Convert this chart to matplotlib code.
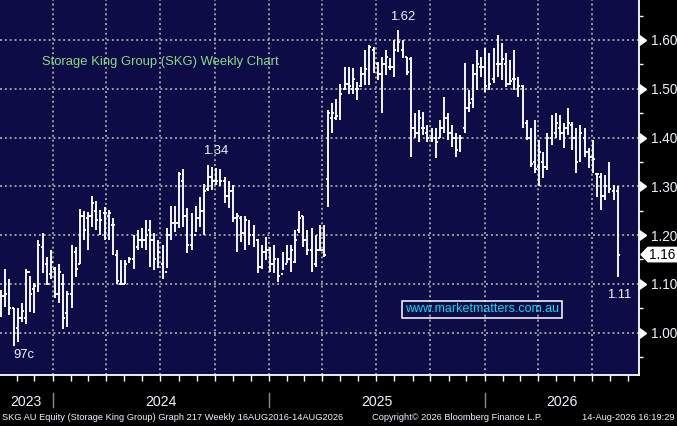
import matplotlib
matplotlib.use('Agg')
import matplotlib.pyplot as plt
import matplotlib.dates as mdates
import pandas as pd
import numpy as np
from matplotlib.patches import Polygon
from matplotlib.transforms import blended_transform_factory

# ---------------- data (weekly OHLC) ----------------
high = [1.088, 1.131, 1.110, 1.051, 1.051, 1.061, 1.131, 1.117, 1.102, 1.190,
        1.204, 1.155, 1.170, 1.135, 1.141, 1.120, 1.086, 1.180, 1.176, 1.254,
        1.250, 1.248, 1.280, 1.270, 1.252, 1.258, 1.252, 1.235, 1.170, 1.149,
        1.149, 1.155, 1.200, 1.210, 1.215, 1.231, 1.230, 1.205, 1.190, 1.180,
        1.215, 1.260, 1.260, 1.330, 1.336, 1.256, 1.245, 1.260, 1.278, 1.305,
        1.343, 1.340, 1.338, 1.336, 1.319, 1.310, 1.303, 1.245, 1.240, 1.240,
        1.231, 1.221, 1.192, 1.180, 1.196, 1.176, 1.180, 1.153, 1.166, 1.180,
        1.180, 1.210, 1.250, 1.240, 1.210, 1.215, 1.200, 1.220, 1.220, 1.457,
        1.471, 1.480, 1.510, 1.545, 1.545, 1.543, 1.514, 1.545, 1.580, 1.590,
        1.586, 1.555, 1.565, 1.580, 1.563, 1.600, 1.620, 1.600, 1.565, 1.565,
        1.450, 1.457, 1.452, 1.426, 1.420, 1.420, 1.436, 1.483, 1.450, 1.426,
        1.410, 1.405, 1.553, 1.497, 1.550, 1.580, 1.565, 1.584, 1.573, 1.584,
        1.610, 1.594, 1.573, 1.559, 1.580, 1.524, 1.508, 1.436, 1.420, 1.436,
        1.395, 1.370, 1.410, 1.446, 1.450, 1.446, 1.430, 1.461, 1.432, 1.420,
        1.426, 1.420, 1.379, 1.395, 1.327, 1.327, 1.323, 1.350, 1.303, 1.300]
low = [1.031, 1.053, 1.036, 0.972, 0.980, 1.022, 1.018, 1.042, 1.041, 1.084,
       1.122, 1.098, 1.110, 1.071, 1.061, 1.008, 1.012, 1.051, 1.114, 1.141,
       1.190, 1.170, 1.217, 1.210, 1.200, 1.190, 1.190, 1.160, 1.100, 1.098,
       1.100, 1.143, 1.131, 1.170, 1.174, 1.170, 1.135, 1.129, 1.133, 1.110,
       1.133, 1.190, 1.207, 1.215, 1.217, 1.164, 1.170, 1.207, 1.217, 1.200,
       1.290, 1.293, 1.303, 1.300, 1.266, 1.256, 1.227, 1.166, 1.186, 1.170,
       1.180, 1.176, 1.122, 1.131, 1.149, 1.125, 1.122, 1.104, 1.129, 1.143,
       1.125, 1.143, 1.205, 1.176, 1.160, 1.125, 1.135, 1.170, 1.154, 1.258,
       1.410, 1.436, 1.436, 1.497, 1.490, 1.490, 1.477, 1.503, 1.508, 1.508,
       1.532, 1.518, 1.450, 1.528, 1.539, 1.524, 1.575, 1.563, 1.528, 1.360,
       1.400, 1.390, 1.405, 1.390, 1.390, 1.358, 1.400, 1.410, 1.395, 1.380,
       1.360, 1.370, 1.410, 1.452, 1.460, 1.497, 1.524, 1.494, 1.497, 1.512,
       1.524, 1.518, 1.504, 1.508, 1.497, 1.483, 1.420, 1.395, 1.340, 1.327,
       1.300, 1.317, 1.334, 1.385, 1.400, 1.395, 1.379, 1.406, 1.375, 1.327,
       1.350, 1.360, 1.338, 1.327, 1.278, 1.252, 1.272, 1.286, 1.272, 1.114]
open_ = [1.040, 1.075, 1.100, 1.050, 1.010, 1.030, 1.030, 1.125, 1.090, 1.095,
         1.175, 1.140, 1.120, 1.130, 1.080, 1.100, 1.040, 1.080, 1.165, 1.140,
         1.240, 1.235, 1.240, 1.250, 1.230, 1.245, 1.240, 1.220, 1.160, 1.100,
         1.100, 1.145, 1.150, 1.175, 1.190, 1.190, 1.210, 1.190, 1.160, 1.140,
         1.125, 1.200, 1.225, 1.225, 1.310, 1.240, 1.180, 1.200, 1.235, 1.250,
         1.295, 1.320, 1.310, 1.310, 1.310, 1.280, 1.290, 1.235, 1.235, 1.205,
         1.220, 1.200, 1.190, 1.135, 1.165, 1.170, 1.140, 1.150, 1.120, 1.140,
         1.150, 1.145, 1.210, 1.240, 1.190, 1.170, 1.140, 1.170, 1.170, 1.315,
         1.440, 1.440, 1.450, 1.500, 1.510, 1.500, 1.500, 1.505, 1.530, 1.540,
         1.580, 1.550, 1.530, 1.550, 1.545, 1.545, 1.580, 1.580, 1.565, 1.560,
         1.420, 1.410, 1.420, 1.410, 1.400, 1.400, 1.400, 1.420, 1.440, 1.410,
         1.400, 1.390, 1.420, 1.460, 1.480, 1.530, 1.545, 1.545, 1.510, 1.520,
         1.550, 1.550, 1.550, 1.510, 1.520, 1.515, 1.505, 1.430, 1.400, 1.350,
         1.340, 1.350, 1.340, 1.400, 1.410, 1.420, 1.410, 1.420, 1.425, 1.400,
         1.360, 1.400, 1.370, 1.360, 1.325, 1.320, 1.280, 1.290, 1.290, 1.290]
close = [1.075, 1.080, 1.050, 1.000, 1.030, 1.045, 1.125, 1.080, 1.095, 1.180,
         1.140, 1.100, 1.145, 1.080, 1.125, 1.030, 1.080, 1.165, 1.130, 1.240,
         1.210, 1.240, 1.265, 1.230, 1.230, 1.245, 1.245, 1.220, 1.105, 1.100,
         1.140, 1.150, 1.170, 1.190, 1.190, 1.200, 1.190, 1.150, 1.165, 1.125,
         1.200, 1.225, 1.225, 1.325, 1.240, 1.180, 1.200, 1.235, 1.250, 1.290,
         1.320, 1.310, 1.310, 1.310, 1.280, 1.290, 1.235, 1.240, 1.205, 1.230,
         1.200, 1.190, 1.135, 1.165, 1.170, 1.140, 1.150, 1.115, 1.140, 1.150,
         1.170, 1.190, 1.235, 1.190, 1.170, 1.130, 1.170, 1.170, 1.160, 1.450,
         1.450, 1.445, 1.490, 1.510, 1.505, 1.520, 1.500, 1.530, 1.540, 1.585,
         1.550, 1.530, 1.550, 1.565, 1.545, 1.580, 1.595, 1.570, 1.535, 1.420,
         1.410, 1.440, 1.420, 1.400, 1.405, 1.390, 1.420, 1.440, 1.410, 1.400,
         1.375, 1.400, 1.460, 1.470, 1.530, 1.550, 1.545, 1.505, 1.510, 1.550,
         1.550, 1.560, 1.510, 1.515, 1.520, 1.505, 1.430, 1.400, 1.345, 1.335,
         1.370, 1.340, 1.400, 1.420, 1.430, 1.410, 1.420, 1.430, 1.400, 1.350,
         1.410, 1.370, 1.360, 1.355, 1.325, 1.280, 1.300, 1.295, 1.300, 1.160]
last_date = '2026-08-14'
y_major = [1.00, 1.10, 1.20, 1.30, 1.40, 1.50, 1.60]
y_minor = [0.95, 1.05, 1.15, 1.25, 1.35, 1.45, 1.55, 1.65]
years = [2023, 2024, 2025, 2026]
title = 'Storage King Group (SKG) Weekly Chart'
footer_left = 'SKG AU Equity (Storage King Group) Graph 217 Weekly 16AUG2016-14AUG2026'
footer_mid = 'Copyright\u00a9 2026 Bloomberg Finance L.P.'
footer_right = '14-Aug-2026 16:19:29'
watermark = 'www.marketmatters.com.au'

# ---------------- style ----------------
plt.rcParams['font.family'] = ['Liberation Sans', 'DejaVu Sans']
NAVY = '#0d0c47'
GRID = '#9c9ca4'
TXT = '#eef2ff'

dates = pd.date_range(end=last_date, periods=len(close), freq='W-FRI')
xd = mdates.date2num(dates.to_pydatetime())

W, H = 677, 426
fig = plt.figure(figsize=(W / 100, H / 100), dpi=100, facecolor='black')
ax = fig.add_axes([0, 51 / H, 639 / W, 375 / H])
ax.set_facecolor(NAVY)

x0 = mdates.date2num(pd.Timestamp('2023-10-04'))
x1 = mdates.date2num(pd.Timestamp('2026-09-19'))
ax.set_xlim(x0, x1)
ax.set_ylim(0.913, 1.682)

# OHLC bars
tk = 3.2
LW = 1.35
ax.vlines(xd, low, high, color='white', lw=LW, zorder=3)
ax.hlines(open_, xd - tk, xd, color='white', lw=LW, zorder=3)
ax.hlines(close, xd, xd + tk, color='white', lw=LW, zorder=3)

# grid
ax.xaxis.set_major_locator(mdates.MonthLocator(bymonth=[1, 4, 7, 10]))
ax.xaxis.set_minor_locator(mdates.MonthLocator())
ax.set_yticks(y_major)
ax.set_yticks(y_minor, minor=True)
ax.grid(True, which='major', color=GRID, lw=1.4, linestyle=(0, (1, 1.5)))
ax.set_axisbelow(True)

for s in ['left', 'top']:
    ax.spines[s].set_visible(False)
for s in ['right', 'bottom']:
    ax.spines[s].set_color('white')
    ax.spines[s].set_linewidth(1.3)

ax.tick_params(axis='x', which='both', direction='out', length=4, width=1,
               colors='white', labelbottom=False)
ax.yaxis.tick_right()
ax.tick_params(axis='y', which='major', length=0, pad=8.5, labelsize=9.8,
               labelcolor=TXT)
ax.tick_params(axis='y', which='minor', length=3, width=1, colors='white')
ax.set_yticklabels(['%.2f' % v for v in y_major])

bt = blended_transform_factory(ax.transAxes, ax.transData)
ax.plot(np.ones(len(y_major)), y_major, transform=bt, ls='none', marker=9,
        ms=6.5, color='white', clip_on=False, zorder=5)

# last price tag
lc = close[-1]
px = 1 / 639
hh = 7.2 / 487.8
tag = Polygon([(1 + 2 * px, lc), (1 + 9 * px, lc + hh), (1 + 40 * px, lc + hh),
               (1 + 40 * px, lc - hh), (1 + 9 * px, lc - hh)], closed=True,
              transform=bt, fc='white', ec='white', clip_on=False, zorder=6)
ax.add_patch(tag)
ax.text(1 + 23 * px, lc, '%.2f' % lc, transform=bt, ha='center', va='center',
        fontsize=9.8, color='black', zorder=7, clip_on=False)

# annotations
ih = int(np.argmax(high))
ax.annotate('%.2f' % high[ih], (xd[ih], high[ih]), xytext=(4, 13),
            textcoords='offset pixels', ha='center', va='center', color=TXT, fontsize=9.4)
h2 = int(np.argmax(high[:79]))
ax.annotate('%.2f' % high[h2], (xd[h2], high[h2]), xytext=(8, 14),
            textcoords='offset pixels', ha='center', va='center', color=TXT, fontsize=9.4)
il = int(np.argmin(low))
ax.annotate('%dc' % round(low[il] * 100), (xd[il], low[il]), xytext=(10, -9),
            textcoords='offset pixels', ha='center', va='center', color=TXT, fontsize=9.4)
ax.annotate('%.2f' % low[-1], (xd[-1], low[-1]), xytext=(1, -18),
            textcoords='offset pixels', ha='center', va='center', color=TXT, fontsize=9.4)

# title and watermark
fig.text(42 / W, 1 - 62 / H, title, color='#86dc86', fontsize=9.4,
         ha='left', va='center')
fig.text(482 / W, 1 - 309.5 / H, watermark, color='#12d8f2', fontsize=9.0,
         ha='center', va='center',
         bbox=dict(boxstyle='square,pad=0.2', fc='none', ec='white', lw=1.1))

# year labels and separators below the axis
bx = blended_transform_factory(ax.transData, ax.transAxes)
bounds = [x0] + [mdates.date2num(pd.Timestamp('%d-01-01' % y)) for y in years[1:]] + [x1]
for i, y in enumerate(years):
    c = (bounds[i] + bounds[i + 1]) / 2
    ax.text(c, -27 / 375, str(y), transform=bx, ha='center', va='center',
            color=TXT, fontsize=10.2, clip_on=False)
for b in bounds[1:-1]:
    ax.plot([b, b], [-18 / 375, -32 / 375], transform=bx, color='#8a8a8a',
            lw=1, clip_on=False)

# footer
fig.text(2 / W, 9 / H, footer_left, color=TXT, fontsize=6.7, ha='left', va='center')
fig.text(372 / W, 9 / H, footer_mid, color=TXT, fontsize=6.7, ha='left', va='center')
fig.text(675 / W, 9 / H, footer_right, color=TXT, fontsize=6.7, ha='right', va='center')

fig.savefig('out.png', dpi=100, facecolor='black')
